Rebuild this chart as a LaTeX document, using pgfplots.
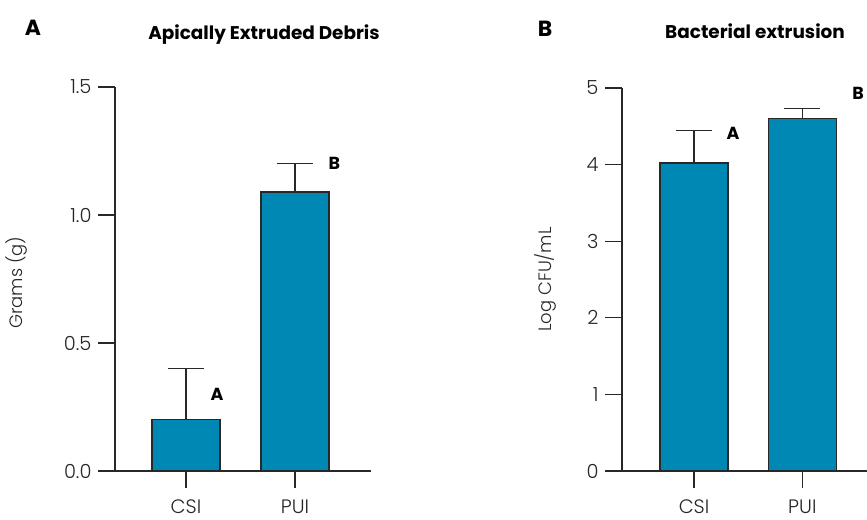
\documentclass[border=0pt]{standalone}
\usepackage{fontspec}
\setmainfont{Poppins}[UprightFont=* Light, BoldFont=* Bold]
\usepackage{pgfplots}
\pgfplotsset{compat=1.18}
\definecolor{barblue}{RGB}{0,136,181}
\definecolor{axgray}{RGB}{40,40,40}
\pgfplotsset{
  panel/.style={
    scale only axis, clip=false,
    axis x line=bottom, axis y line=left,
    axis line style={-, axgray, line width=1.2bp},
    every tick/.style={axgray, line width=1.2bp},
    tick align=outside, major tick length=17bp,
    xtick={0,1}, xticklabels={CSI,PUI},
    ybar, bar width=68bp,
    tick label style={font=\fontsize{19.5}{22}\selectfont, text=black!85},
    xticklabel style={yshift=-8bp},
    yticklabel style={xshift=-3bp},
    label style={font=\fontsize{18}{20}\selectfont, text=black!85},
    title style={font=\fontsize{18.5}{21}\selectfont\bfseries},
    /pgf/number format/assume math mode=true,
  },
  bars/.style={
    fill=barblue, draw=axgray, line width=1.2bp, bar shift=0pt,
    error bars/.cd, y dir=plus, y explicit,
    error bar style={line width=1.2bp, axgray},
    error mark options={rotate=90, line width=1.2bp, axgray, mark size=18bp},
  },
}
\begin{document}
\begin{tikzpicture}
\useasboundingbox (0bp,0bp) rectangle (867bp,520bp);
% Panel A
\begin{axis}[panel, at={(115bp,49bp)}, anchor=south west,
  width=256bp, height=384bp,
  xmin=-0.651, xmax=1.697, ymin=0, ymax=1.5,
  ytick={0,0.5,1,1.5},
  yticklabel style={/pgf/number format/fixed,/pgf/number format/precision=1,/pgf/number format/fixed zerofill},
  ylabel={Grams (g)},
  ylabel style={at={(axis description cs:-0.383,0.49)}, anchor=center},
  title={Apically Extruded Debris},
  title style={at={(axis description cs:0.582,1.122)}, anchor=center},
]
\addplot[bars] table[x=x, y=y, y error=e] {
x y e
0 0.20 0.20
1 1.09 0.11
};
\node[font=\fontsize{17.5}{20}\selectfont\bfseries] at (axis cs:0.284,0.30) {A};
\node[font=\fontsize{17.5}{20}\selectfont\bfseries] at (axis cs:1.36,1.20) {B};
\end{axis}
% Panel B
\begin{axis}[panel, at={(622bp,49bp)}, anchor=south west,
  width=245bp, height=383bp,
  xmin=-0.665, xmax=1.597, ymin=0, ymax=5,
  ytick={0,1,2,3,4,5},
  ylabel={Log CFU/mL},
  ylabel style={at={(axis description cs:-0.314,0.50)}, anchor=center},
  title={Bacterial extrusion},
  title style={at={(axis description cs:0.543,1.132)}, anchor=center},
]
\addplot[bars] table[x=x, y=y, y error=e] {
x y e
0 4.02 0.43
1 4.60 0.13
};
\node[font=\fontsize{17.5}{20}\selectfont\bfseries] at (axis cs:0.36,4.41) {A};
\node[font=\fontsize{17.5}{20}\selectfont\bfseries] at (axis cs:1.514,4.93) {B};
\end{axis}
\node[font=\fontsize{22}{24}\selectfont\bfseries] at (33bp,492bp) {A};
\node[font=\fontsize{22}{24}\selectfont\bfseries] at (545bp,491bp) {B};
\end{tikzpicture}
\end{document}
